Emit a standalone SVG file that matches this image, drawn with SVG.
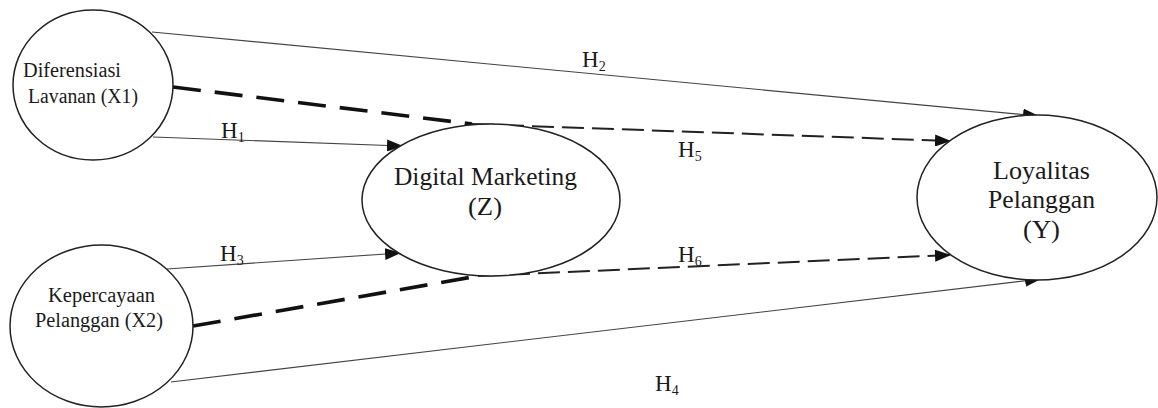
<svg xmlns="http://www.w3.org/2000/svg" width="1158" height="408" viewBox="0 0 1158 408">
<style>
.node{fill:#fff;stroke:#222;stroke-width:1.5}
.lbl{font-family:'Liberation Serif','Times New Roman',Tinos,Times,serif;fill:#1a1a1a}
.thin{fill:none;stroke:#444;stroke-width:1.1}
.thick{fill:none;stroke:#111;stroke-width:3.6;stroke-dasharray:28 14}
.dash{fill:none;stroke:#222;stroke-width:2;stroke-dasharray:22 8}
.h{font-family:'Liberation Serif','Times New Roman',Tinos,Times,serif;font-size:23px;fill:#1a1a1a}
.sub{font-size:14px}
</style>
<defs>
<marker id="arr" markerUnits="userSpaceOnUse" markerWidth="16" markerHeight="12" viewBox="0 0 16 12" refX="15" refY="6" orient="auto">
<path d="M0,0 L16,6 L0,12 Z" fill="#111"/>
</marker>
</defs>
<rect width="1158" height="408" fill="#fff"/>
<g id="connectors">
<line class="thin" x1="152" y1="32" x2="1038" y2="116" marker-end="url(#arr)"/>
<line class="thin" x1="153" y1="137" x2="402" y2="146" marker-end="url(#arr)"/>
<line class="thin" x1="167" y1="269" x2="400" y2="253" marker-end="url(#arr)"/>
<line class="thin" x1="171" y1="382" x2="1040" y2="279" marker-end="url(#arr)"/>
<line class="thick" x1="173" y1="87" x2="472" y2="124"/>
<line class="dash" x1="472" y1="124" x2="950" y2="141" marker-end="url(#arr)"/>
<line class="thick" x1="193" y1="326" x2="478" y2="276"/>
<line class="dash" x1="478" y1="276" x2="950" y2="255" marker-end="url(#arr)"/>
<text class="h" x="221" y="138">H<tspan class="sub" dy="4">1</tspan></text>
<text class="h" x="582" y="67">H<tspan class="sub" dy="4">2</tspan></text>
<text class="h" x="220" y="261">H<tspan class="sub" dy="4">3</tspan></text>
<text class="h" x="655" y="391">H<tspan class="sub" dy="4">4</tspan></text>
<text class="h" x="678" y="157">H<tspan class="sub" dy="4">5</tspan></text>
<text class="h" x="678" y="262">H<tspan class="sub" dy="4">6</tspan></text>
</g>
<g id="X1">
<ellipse class="node" cx="93" cy="85" rx="80" ry="75"/>
<text class="lbl" font-size="20.5" x="23" y="77" textLength="98" lengthAdjust="spacingAndGlyphs">Diferensiasi</text>
<text class="lbl" font-size="20.5" x="28" y="103" textLength="110" lengthAdjust="spacingAndGlyphs">Lavanan (X1)</text>
</g>
<g id="X2">
<ellipse class="node" cx="101.5" cy="326" rx="91.5" ry="81"/>
<text class="lbl" font-size="20.5" x="48" y="302" textLength="107" lengthAdjust="spacingAndGlyphs">Kepercayaan</text>
<text class="lbl" font-size="20.5" x="35" y="327" textLength="128" lengthAdjust="spacingAndGlyphs">Pelanggan (X2)</text>
</g>
<g id="Z">
<ellipse class="node" cx="491" cy="200" rx="129" ry="76"/>
<text class="lbl" font-size="26" x="394" y="185" textLength="183" lengthAdjust="spacingAndGlyphs">Digital Marketing</text>
<text class="lbl" font-size="26" x="468" y="215" textLength="34" lengthAdjust="spacingAndGlyphs">(Z)</text>
</g>
<g id="Y">
<ellipse class="node" cx="1037" cy="197.5" rx="120" ry="82.5"/>
<text class="lbl" font-size="26" x="993" y="179" textLength="97" lengthAdjust="spacingAndGlyphs">Loyalitas</text>
<text class="lbl" font-size="26" x="988" y="208" textLength="107" lengthAdjust="spacingAndGlyphs">Pelanggan</text>
<text class="lbl" font-size="26" x="1023" y="238" textLength="37" lengthAdjust="spacingAndGlyphs">(Y)</text>
</g>
</svg>
